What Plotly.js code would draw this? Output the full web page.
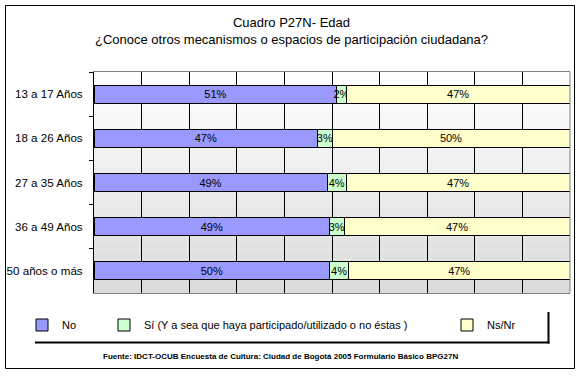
<!DOCTYPE html>
<html>
<head>
<meta charset="utf-8">
<script src="https://cdn.plot.ly/plotly-3.0.1.min.js"></script>
<style>html,body{margin:0;padding:0;background:#fff;}#chart{width:582px;height:376px;}</style>
</head>
<body>
<div id="chart"></div>
<script>
const categories = ["13 a 17 Años", "18 a 26 Años", "27 a 35 Años", "36 a 49 Años", "50 años o más"];
const seriesNames = ["No", "Sí (Y a sea que haya participado/utilizado o no éstas )", "Ns/Nr"];
const noValues = [51, 47, 49, 49, 50];
const siValues = [2, 3, 4, 3, 4];
const nsnrValues = [47, 50, 47, 47, 47];
const seriesColors = ["#9999ff", "#ccffcc", "#ffffcc"];

const W = 582, H = 376;
const M = {l: 94, r: 12, t: 72, b: 83};
const PW = W - M.l - M.r, PH = H - M.t - M.b;
const px = x => (x - M.l) / PW;
const py = y => (H - M.b - y) / PH;
const FONT = "Liberation Sans, Arial, sans-serif";

const allValues = [noValues, siValues, nsnrValues];
const legendIds = ["legend", "legend2", "legend3"];
const traces = allValues.map((vals, i) => ({
  type: "bar",
  orientation: "h",
  name: seriesNames[i],
  y: categories,
  x: vals,
  text: vals.map(v => v + "%"),
  textposition: "inside",
  insidetextanchor: "middle",
  textangle: 0,
  constraintext: "none",
  textfont: {family: FONT, size: 11, color: "#000"},
  marker: {color: seriesColors[i], line: {color: "#000", width: 1}},
  legend: legendIds[i],
  hoverinfo: "skip"
}));

// background gradient bands (plot area)
const shapes = [];
const nb = 60;
for (let k = 0; k < nb; k++) {
  const t = (k + 0.5) / nb; // 0 top -> 1 bottom
  const c = Math.round(255 - t * (255 - 218));
  shapes.push({type: "rect", xref: "x domain", yref: "y domain", x0: 0, x1: 1,
    y0: 1 - (k + 1) / nb, y1: 1 - k / nb + 0.001, fillcolor: `rgb(${c},${c},${c})`,
    line: {width: 0}, layer: "below"});
}
// right plot border
shapes.push({type: "line", xref: "x domain", yref: "y domain", x0: 1, x1: 1, y0: 0, y1: 1,
  line: {color: "#808080", width: 1}, layer: "above"});
// outer chart border
shapes.push({type: "rect", xref: "paper", yref: "paper", x0: px(5.5), x1: px(574.5), y0: py(368.5), y1: py(5.5),
  line: {color: "#000", width: 1}, fillcolor: "rgba(0,0,0,0)"});
// legend shadow
shapes.push({type: "line", xref: "paper", yref: "paper", x0: px(35), x1: px(549.5), y0: py(342.5), y1: py(342.5),
  line: {color: "#000", width: 2}});
shapes.push({type: "line", xref: "paper", yref: "paper", x0: px(548.5), x1: px(548.5), y0: py(312), y1: py(343.5),
  line: {color: "#000", width: 2}});

const legendFont = {family: FONT, size: 11, color: "#000"};
const legendTextX = [70, 152, 495];
function legendAt(i) {
  return {xref: "container", yref: "container", x: (legendTextX[i] - 48) / W, y: 1 - 325 / H,
    xanchor: "left", yanchor: "middle", orientation: "h", font: legendFont,
    bgcolor: "rgba(0,0,0,0)", borderwidth: 0};
}

const layout = {
  width: W, height: H,
  margin: M,
  paper_bgcolor: "#fff",
  plot_bgcolor: "rgba(0,0,0,0)",
  barmode: "stack",
  barnorm: "percent",
  bargap: 0.59,
  font: {family: FONT, size: 11, color: "#000"},
  title: {
    text: "Cuadro P27N- Edad<br>¿Conoce otros mecanismos o espacios de participación ciudadana?",
    font: {family: FONT, size: 13, color: "#000"},
    xref: "container", x: 291.5 / W, xanchor: "center",
    yref: "container", y: 1 - 27 / H, yanchor: "top"
  },
  xaxis: {range: [0, 100], dtick: 10, showgrid: true, gridcolor: "#000", gridwidth: 1,
    showticklabels: false, ticks: "", zeroline: false, showline: true, linecolor: "#808080",
    linewidth: 1, mirror: true, fixedrange: true},
  yaxis: {type: "category", categoryorder: "array", categoryarray: categories, autorange: "reversed",
    showline: true, linecolor: "#000", linewidth: 1, ticks: "outside", tickson: "boundaries",
    ticklen: 4, tickcolor: "#000", showgrid: false, zeroline: false, ticklabelstandoff: 8,
    tickfont: {family: FONT, size: 11.6, color: "#000"}, fixedrange: true},
  legend: legendAt(0),
  legend2: legendAt(1),
  legend3: legendAt(2),
  shapes: shapes,
  annotations: [{
    text: "<b>Fuente: IDCT-OCUB Encuesta de Cultura: Ciudad de Bogotá 2005 Formulario Básico BPG27N</b>",
    xref: "paper", yref: "paper", x: px(280), y: py(356), xanchor: "center", yanchor: "middle",
    showarrow: false, font: {family: FONT, size: 8, color: "#000"}
  }],
  showlegend: true
};

Plotly.newPlot("chart", traces, layout, {staticPlot: true, displayModeBar: false});
</script>
</body>
</html>
